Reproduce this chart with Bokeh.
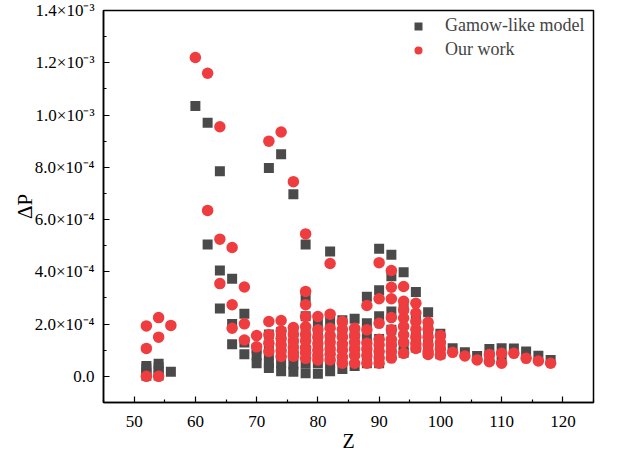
from bokeh.plotting import figure
from bokeh.models import (Range1d, FixedTicker, CustomJSTickFormatter, Legend, LegendItem)
from bokeh.embed import file_html
from bokeh.resources import INLINE

# ---------------- data (ΔP in units of 1e-4) ----------------
gamow_z = [52, 52, 52, 52, 54, 54, 54, 54, 56, 60, 62, 62, 64, 64, 64, 66, 66, 66,
           68, 68, 68, 70, 70, 70,
           72, 72, 72, 72, 72, 72, 74, 74, 74, 74, 74, 74, 76, 76, 76, 76, 76, 76,
           78, 78, 78, 78, 78, 78, 78, 80, 80, 80, 80, 80, 82, 82, 82, 82, 82, 82,
           84, 84, 84, 84, 84, 86, 86, 86, 86, 88, 88, 88, 88, 88,
           90, 90, 90, 90, 90, 90, 92, 92, 92, 92, 92, 92, 94, 94, 94, 94,
           96, 96, 96, 96, 98, 98, 98, 98, 100, 100, 100,
           102, 104, 106, 108, 108, 110, 110, 112, 114, 116, 118]
gamow_dp = [0.02, 0.15, 0.3, 0.4, 0.03, 0.2, 0.35, 0.48, 0.18, 10.35, 9.7, 5.05,
            7.85, 4.05, 2.6, 3.74, 2.0, 1.23, 2.4, 1.3, 0.85, 1.07, 0.8, 0.5,
            7.97, 1.6, 1.2, 0.8, 0.5, 0.32, 8.5, 1.7, 1.3, 0.9, 0.5, 0.2,
            6.97, 1.7, 1.3, 0.8, 0.45, 0.18,
            5.05, 3.0, 2.3, 1.6, 1.0, 0.5, 0.12, 2.0, 1.5, 1.0, 0.5, 0.1,
            4.78, 2.1, 1.5, 1.0, 0.5, 0.2,
            2.15, 1.6, 1.1, 0.6, 0.28, 2.2, 1.6, 1.0, 0.4, 3.05, 2.03, 1.46, 0.9, 0.5,
            4.88, 3.3, 2.3, 1.43, 0.9, 0.5, 4.65, 3.83, 2.48, 1.78, 1.2, 0.8,
            3.98, 2.6, 1.2, 0.9, 3.23, 2.2, 1.5, 1.1, 2.45, 1.8, 1.2, 0.9,
            1.63, 1.2, 0.85,
            1.08, 0.92, 0.78, 1.05, 0.75, 1.08, 0.7, 1.07, 0.95, 0.79, 0.63]

our_z = [52, 52, 52, 54, 54, 54, 56, 60, 62, 62, 64, 64, 64, 66, 66, 66, 68, 68, 68,
         70, 70, 72, 72, 72, 72, 72, 74, 74, 74, 74, 74, 74, 74,
         76, 76, 76, 76, 76, 76, 76,
         78, 78, 78, 78, 78, 78, 78, 78, 78, 78,
         80, 80, 80, 80, 80, 80, 80,
         82, 82, 82, 82, 82, 82, 82, 82,
         84, 84, 84, 84, 84, 84, 84,
         86, 86, 86, 86, 86, 86,
         88, 88, 88, 88, 88, 88,
         90, 90, 90, 90, 90, 90, 90, 90,
         92, 92, 92, 92, 92, 92, 92, 92, 92,
         94, 94, 94, 94, 94, 94, 94, 94,
         96, 96, 96, 96, 96, 96, 96,
         98, 98, 98, 98, 98, 98,
         100, 100, 100, 100,
         102, 104, 106, 108, 108, 110, 110, 112, 114, 116, 118]
our_dp = [1.93, 1.07, 0.0, 2.25, 1.5, 0.0, 1.95, 12.2, 11.6, 6.35, 9.55, 5.25, 3.55,
          4.93, 2.74, 1.84, 3.42, 2.01, 1.39, 1.56, 1.13,
          9.0, 2.1, 1.59, 1.27, 0.95,
          9.35, 2.14, 1.74, 1.45, 1.2, 0.98, 0.76,
          7.45, 1.87, 1.6, 1.35, 1.1, 0.9, 0.77,
          5.45, 3.25, 2.74, 2.29, 1.9, 1.6, 1.35, 1.1, 0.9, 0.69,
          2.29, 1.78, 1.5, 1.25, 1.0, 0.8, 0.63,
          4.32, 2.38, 1.84, 1.55, 1.3, 1.05, 0.85, 0.63,
          2.1, 1.8, 1.5, 1.25, 1.0, 0.75, 0.5,
          1.84, 1.55, 1.3, 1.05, 0.8, 0.5,
          2.71, 1.78, 1.27, 1.05, 0.8, 0.5,
          4.35, 2.97, 2.03, 1.42, 1.2, 0.95, 0.7, 0.5,
          4.05, 3.41, 2.97, 2.25, 1.78, 1.42, 1.2, 0.95, 0.7,
          3.44, 2.87, 2.55, 2.23, 1.91, 1.59, 1.3, 0.88,
          2.8, 2.42, 2.1, 1.8, 1.5, 1.25, 1.07,
          2.07, 1.8, 1.5, 1.2, 0.95, 0.84,
          1.56, 1.3, 1.05, 0.82,
          0.92, 0.78, 0.63, 0.84, 0.56, 0.88, 0.5, 0.88, 0.69, 0.59, 0.5]

series_names = ["Gamow-like model", "Our work"]
x_ticks = [50, 60, 70, 80, 90, 100, 110, 120]
x_minor = [45, 55, 65, 75, 85, 95, 105, 115, 125]
y_ticks = [0.0, 2e-4, 4e-4, 6e-4, 8e-4, 1.0e-3, 1.2e-3, 1.4e-3]
y_tick_labels = ["0.0", "2.0×10⁻⁴", "4.0×10⁻⁴", "6.0×10⁻⁴", "8.0×10⁻⁴",
                 "1.0×10⁻³", "1.2×10⁻³", "1.4×10⁻³"]
y_minor = [-1e-4, 1e-4, 3e-4, 5e-4, 7e-4, 9e-4, 1.1e-3, 1.3e-3]
x_title = "Z"
y_title = "ΔP"

SCALE = 1e-4
FONT = "Liberation Serif"

p = figure(width=618, height=454, output_backend="svg", toolbar_location=None,
           x_range=Range1d(45, 125), y_range=Range1d(-1e-4, 1.4e-3),
           min_border_left=103, min_border_right=25, min_border_top=10,
           min_border_bottom=51)
p.xgrid.visible = False
p.ygrid.visible = False
p.outline_line_color = "black"
p.outline_line_width = 1.5
p.background_fill_color = "white"
p.border_fill_color = "white"

r1 = p.scatter(gamow_z, [v * SCALE for v in gamow_dp], marker="square",
               size=10, fill_color="#4a4a4a", line_color=None)
r2 = p.scatter(our_z, [v * SCALE for v in our_dp], marker="circle",
               size=11.5, fill_color="#ef3d3f", line_color=None)

for ax in (p.xaxis[0], p.yaxis[0]):
    ax.axis_line_color = "black"
    ax.axis_line_width = 1.5
    ax.major_tick_in = 6
    ax.major_tick_out = 0
    ax.minor_tick_in = 3
    ax.minor_tick_out = 0
    ax.major_tick_line_width = 1.2
    ax.minor_tick_line_width = 1.2
    ax.major_label_text_font = FONT
    ax.major_label_text_font_size = "17px"
    ax.major_label_text_color = "black"
    ax.axis_label_text_font = FONT
    ax.axis_label_text_font_style = "normal"
    ax.axis_label_text_color = "black"

p.xaxis.ticker = FixedTicker(ticks=x_ticks, minor_ticks=x_minor)
p.yaxis.ticker = FixedTicker(ticks=y_ticks, minor_ticks=y_minor)
p.yaxis.formatter = CustomJSTickFormatter(args=dict(vals=y_ticks, labels=y_tick_labels), code="""
for (let i = 0; i < vals.length; i++) {
  if (Math.abs(vals[i] - tick) < 1e-9) return labels[i];
}
return "";
""")
p.xaxis.axis_label = x_title
p.xaxis.axis_label_text_font_size = "20px"
p.xaxis.major_label_standoff = 13
p.xaxis.axis_label_standoff = 0
p.yaxis.axis_label = y_title
p.yaxis.axis_label_text_font_size = "21px"
p.yaxis.major_label_standoff = 9
p.yaxis.axis_label_standoff = -5

legend = Legend(items=[LegendItem(label=series_names[0], renderers=[r1]),
                       LegendItem(label=series_names[1], renderers=[r2])],
                location=(305, 342), padding=0, margin=0, spacing=3,
                glyph_width=20, glyph_height=20, label_standoff=17,
                label_text_font=FONT, label_text_font_size="18px",
                border_line_alpha=0, background_fill_alpha=0)
p.add_layout(legend)

open("out.html", "w").write(file_html(p, INLINE))
